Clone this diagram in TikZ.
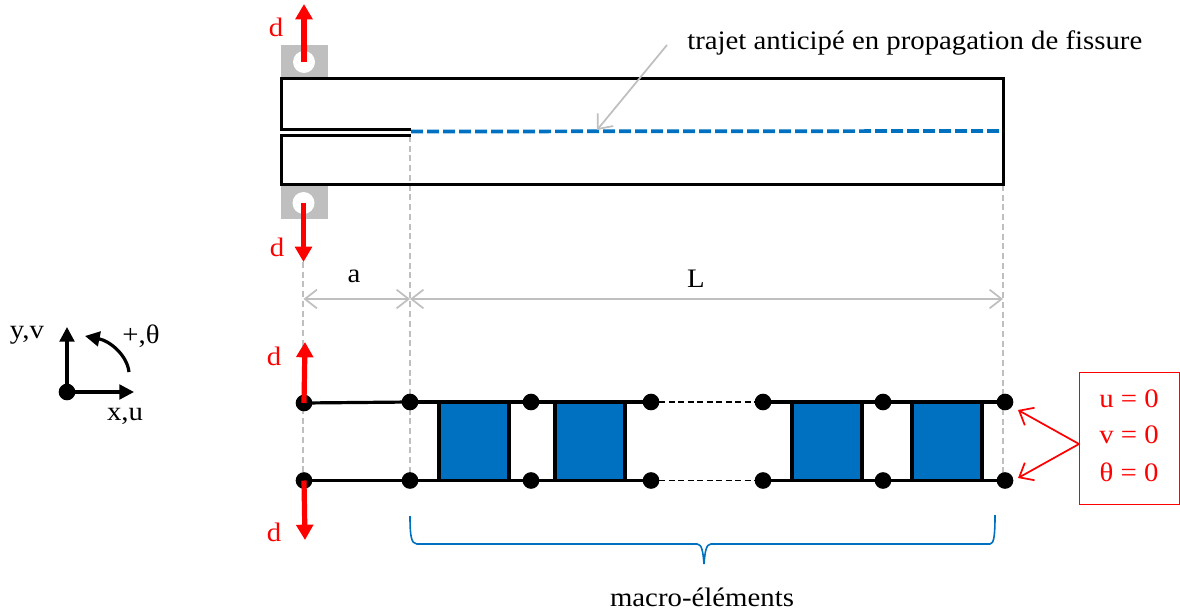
\documentclass[tikz,border=0pt]{standalone}
\usepackage{fontspec}
\setmainfont[FakeStretch=1.08]{Liberation Serif}
\usetikzlibrary{arrows.meta}
\tikzset{
  x=0.75pt,y=-0.75pt,
  lab/.style={inner sep=0pt,font=\fontsize{20pt}{24pt}\selectfont},
  redlab/.style={lab,text=red0},
  beam/.style={draw=black,line width=2.25pt,line join=miter},
  forcearrow/.style={draw=red0,line width=3.9pt,-{Triangle[length=11.5pt,width=12.5pt]}},
  guide/.style={draw=grey0,line width=1.2pt,dash pattern=on 4.5pt off 2.8pt},
  dim/.style={draw=grey0,line width=1.3pt,{Straight Barb[length=9pt,width=14pt,line width=1.3pt]}-{Straight Barb[length=9pt,width=14pt,line width=1.3pt]}},
  dot/.style={circle,fill=black,minimum size=12.5pt,inner sep=0pt,outer sep=0pt},
  bar/.style={draw=black,line width=2.4pt},
  mac/.style={draw=black,line width=2.5pt,fill=blue0},
  pin/.style={circle,fill=white,minimum size=16.5pt,inner sep=0pt},
  lug/.style={fill=grey0,draw=none},
  callout/.style={draw=red0,line width=1.3pt,-{Straight Barb[length=9pt,width=15pt,line width=1.3pt]}},
  axis/.style={draw=black,line width=2.4pt,-{Triangle[length=11pt,width=11pt]}},
}
\definecolor{red0}{RGB}{255,0,0}
\definecolor{grey0}{RGB}{191,191,191}
\definecolor{blue0}{RGB}{0,112,192}
\begin{document}
\begin{tikzpicture}
\useasboundingbox (0,0) rectangle (1180,613);
% lugs
\fill[lug] (281,45) rectangle (328,78);
\fill[lug] (281,186) rectangle (328,219);
\node[pin] (pinT) at (304,62) {};
\node[pin] (pinB) at (303.5,203) {};
% guides
\coordinate (gA0) at (303,262);
\coordinate (gA1) at (303,480);
\coordinate (gB0) at (410,136);
\coordinate (gB1) at (410,480);
\coordinate (gC0) at (1003,185);
\coordinate (gC1) at (1003,480);
\draw[guide] (gA0) -- (gA1);
\draw[guide] (gB0) -- (gB1);
\draw[guide] (gC0) -- (gC1);
% beam
\draw[beam] (411,129.5) -- (281,129.5) -- (281,78.5) -- (1003,78.5) -- (1003,184.5) -- (281,184.5) -- (281,136) -- (411,136);
\coordinate (crackA) at (411,131.5);
\coordinate (crackB) at (1003,131);
\draw[draw=blue0,line width=2.8pt,dash pattern=on 9pt off 3pt] (crackA) -- (crackB);
% force arrows at top
\coordinate (fT) at (304,4);
\coordinate (fB) at (303.5,262);
\draw[forcearrow] (pinT.center) -- (fT);
\draw[forcearrow] (pinB.center) -- (fB);
\node[redlab] at (276,27) {d};
\node[redlab] at (277,247) {d};
% annotation
\node[lab,anchor=west] (traj) at (687,43) {trajet anticipé en propagation de fissure};
\coordinate (trajS) at (667,45);
\coordinate (trajE) at (597,130);
\draw[draw=grey0,line width=1.3pt,-{Straight Barb[length=9pt,width=15pt,line width=1.3pt]}] (trajS) -- (trajE);
% dimensions
\coordinate (dA) at (303.5,299);
\coordinate (dB) at (410,299);
\coordinate (dC) at (1003,299);
\draw[dim] (dA) -- (dB);
\draw[dim] (dB) -- (dC);
\node[lab] at (354,276) {a};
\node[lab] at (696,279) {L};
% macro elements
\draw[mac] (439,402) rectangle (509,480.5);
\draw[mac] (555,402) rectangle (625,480.5);
\draw[mac] (792,402) rectangle (862,480.5);
\draw[mac] (912,402) rectangle (982,480.5);
% nodes
\node[dot] (t0) at (304,403) {};
\node[dot] (t1) at (410,402) {};
\node[dot] (t2) at (531,402) {};
\node[dot] (t3) at (651,402) {};
\node[dot] (t4) at (763,402) {};
\node[dot] (t5) at (883,402) {};
\node[dot] (t6) at (1005,402) {};
\node[dot] (b0) at (304,480.5) {};
\node[dot] (b1) at (410,480.5) {};
\node[dot] (b2) at (531,480.5) {};
\node[dot] (b3) at (651,480.5) {};
\node[dot] (b4) at (763,480.5) {};
\node[dot] (b5) at (883,480.5) {};
\node[dot] (b6) at (1005,480.5) {};
\draw[bar] (t0.center) -- (t1.center);
\draw[bar] (t1.center) -- (t2.center);
\draw[bar] (t2.center) -- (t3.center);
\draw[bar] (t4.center) -- (t5.center);
\draw[bar] (t5.center) -- (t6.center);
\draw[bar] (b0.center) -- (b1.center);
\draw[bar] (b1.center) -- (b2.center);
\draw[bar] (b2.center) -- (b3.center);
\draw[bar] (b4.center) -- (b5.center);
\draw[bar] (b5.center) -- (b6.center);
\draw[line width=0.9pt,dash pattern=on 4.5pt off 2.6pt] (t3) -- (t4);
\draw[line width=0.9pt,dash pattern=on 4.5pt off 2.6pt] (b3) -- (b4);
% lower force arrows
\coordinate (fU) at (305,342);
\coordinate (fD) at (305,540);
\draw[forcearrow] (t0.center) -- (fU);
\draw[forcearrow] (b0.center) -- (fD);
\node[redlab] at (274,356) {d};
\node[redlab] at (274,532) {d};
% brace
\draw[draw=blue0,line width=1.2pt]
  (410,516) .. controls (410,535) and (411,544) .. (417,544)
  -- (697,544) .. controls (702,544) and (703,552) .. (704,564)
  .. controls (705,552) and (706,544) .. (711,544)
  -- (990,544) .. controls (994,544) and (995,535) .. (995,515);
\node[lab] at (702,597) {macro-éléments};
% boundary box
\node[draw=red0,line width=0.9pt,minimum width=75pt,minimum height=99pt,inner sep=0pt,anchor=north west] (bc) at (1079,372) {};
\node[redlab] at (1129,399) {u = 0};
\node[redlab] at (1129,435) {v = 0};
\node[redlab] at (1129,472) {θ = 0};
\coordinate (bcA) at (1079,444);
\coordinate (bcT) at (1018,410);
\coordinate (bcB) at (1018,478);
\draw[callout] (bcA) -- (bcT);
\draw[callout] (bcA) -- (bcB);
% axes
\node[dot] (O) at (67,392) {};
\coordinate (oy) at (67,327);
\coordinate (ox) at (134,392);
\draw[axis] (O.center) -- (oy);
\draw[axis] (O.center) -- (ox);
\coordinate (rotS) at (129,372);
\coordinate (rotE) at (85,336);
\draw[axis] (rotS) .. controls (127,355) and (110,341) .. (rotE);
\node[lab] at (27,335) {y,v};
\node[lab] at (141,336) {+,θ};
\node[lab] at (125,416) {x,u};
\end{tikzpicture}
\end{document}
